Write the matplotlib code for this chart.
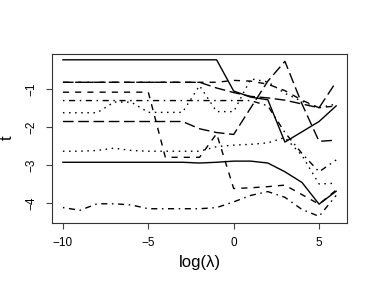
import matplotlib
matplotlib.use("Agg")
import matplotlib.pyplot as plt
import numpy as np

plt.rcParams['font.family'] = ['Liberation Sans', 'DejaVu Sans']

# log(lambda) grid
log_lambda = np.arange(-10, 7)

# coefficient paths (x = -10 .. 6)
path1 = [-0.24] * 10 + [-1.06, -1.22, -1.29, -2.40, -2.13, -1.86, -1.45]
path2 = [-1.09] * 6 + [-2.80, -2.80, -2.80, -2.18, -3.62, -3.60, -3.57, -3.53, -3.78, -4.03, -3.66]
path3 = [-1.63, -1.63, -1.63, -1.35, -1.35, -1.62, -1.62, -1.62, -0.92, -1.60,
         -1.60, -0.74, -0.82, -1.12, -1.33, -1.50, -1.40]
path4 = [-1.31] * 12 + [-1.45, -2.15, -2.70, -3.18, -2.87]
path5 = [-0.83] * 8 + [-0.83, -0.98, -1.10, -1.20, -1.24, -1.30, -1.40, -1.50, -0.82]
path6 = [-2.93] * 8 + [-2.95, -2.93, -2.90, -2.90, -2.95, -3.18, -3.46, -4.03, -3.69]
path7 = [-0.83] * 10 + [-0.78, -0.80, -0.88, -1.05, -1.30, -1.50, -1.45]
path8 = [-2.64, -2.64, -2.62, -2.56, -2.62, -2.64, -2.64, -2.64, -2.64, -2.52,
         -2.48, -2.46, -2.42, -2.28, -2.75, -3.50, -3.48]
path9 = [-4.12, -4.19, -4.02, -4.02, -4.05, -4.15, -4.15, -4.15, -4.15, -4.12,
         -3.97, -3.80, -3.70, -3.85, -4.17, -4.35, -3.80]
path10 = [-1.86] * 8 + [-2.05, -2.15, -2.20, -1.50, -0.80, -0.28, -1.40, -2.38, -2.35]

paths = [path1, path2, path3, path4, path5, path6, path7, path8, path9, path10]

# R lty 1:5 -> solid, dashed, dotted, dotdash, longdash
ltys = ['-', (0, (4.4, 4.4)), (0, (1.1, 3.3)), (0, (1.1, 3.3, 4.4, 3.3)), (0, (7.7, 3.3))]

fig = plt.figure(figsize=(3.74, 2.91), dpi=100)
ax = fig.add_axes([0.139, 0.235, 0.789, 0.581])

for i, p in enumerate(paths):
    ax.plot(log_lambda, p, color='black', lw=1.0, linestyle=ltys[i % 5],
            dash_capstyle='butt')

allv = np.concatenate([np.asarray(p) for p in paths])
ylo, yhi = allv.min(), allv.max()
xlo, xhi = log_lambda.min(), log_lambda.max()
ax.set_xlim(xlo - 0.04 * (xhi - xlo), xhi + 0.04 * (xhi - xlo))
ax.set_ylim(ylo - 0.04 * (yhi - ylo), yhi + 0.04 * (yhi - ylo))

ax.set_xticks([-10, -5, 0, 5])
ax.set_yticks([-4, -3, -2, -1])
ax.set_yticklabels(['\u22124', '\u22123', '\u22122', '\u22121'], rotation=90, va='center')
ax.set_xticklabels(['\u221210', '\u22125', '0', '5'])
ax.tick_params(labelsize=8.5, length=4, width=0.8, color='#444444', pad=6.5)

for s in ax.spines.values():
    s.set_color('#333333')
    s.set_linewidth(0.8)

ax.set_xlabel('log(\u03bb)', fontsize=12, labelpad=4)
ax.set_ylabel('t', fontsize=12, labelpad=8)

fig.savefig('out.png', dpi=100)
